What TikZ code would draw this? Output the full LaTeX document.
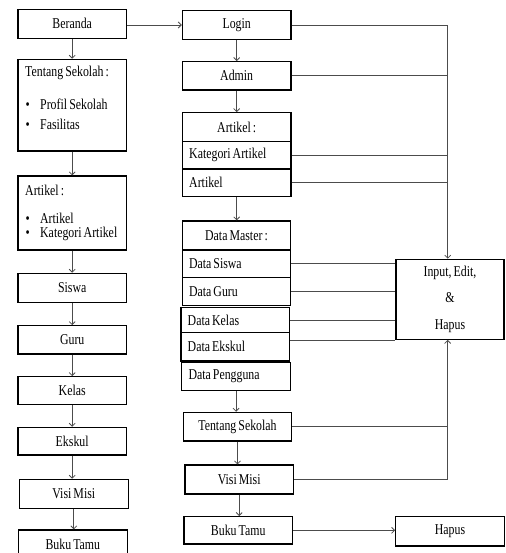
\documentclass[tikz,border=0pt]{standalone}
\usepackage{fontspec}
\setmainfont{Liberation Serif}[FakeStretch=0.79, WordSpace=0.7]
\usetikzlibrary{arrows.meta}

\newcommand{\butir}{\makebox[14.5pt][l]{\textbullet}}

\begin{document}
\begin{tikzpicture}[x=1pt, y=-1pt, font=\fontsize{15}{17.5}\selectfont,
	kotak/.style={draw, line width=1.2pt, inner sep=0pt, minimum width=108.6pt, minimum height=29pt},
	baris/.style={kotak, text width=95pt, align=flush left},
	teks/.style={anchor=west, inner sep=0pt},
	garis/.style={black!70, line width=0.8pt},
	panah/.style={garis, -{Straight Barb[length=3pt,width=6pt]}}]
	\useasboundingbox (0,0) rectangle (505,553);
	\clip (0,0) rectangle (505,553);

	% kolom kiri
	\node[kotak] (beranda) at (72.2,23.8) {Beranda};
	\node[kotak, minimum height=91.7pt] (tentang) at (72.2,105.2) {};
	\node[teks] (tentangJudul) at (25,73.3) {Tentang Sekolah :};
	\node[teks] (profil) at (25.5,104.3) {\butir Profil Sekolah};
	\node[teks] (fasilitas) at (25.5,124.3) {\butir Fasilitas};
	\node[kotak, minimum height=74pt] (artikelKiri) at (72.2,213) {};
	\node[teks] (artikelJudul) at (25,190.7) {Artikel :};
	\node[teks] (artikelA) at (25.5,218.3) {\butir Artikel};
	\node[teks] (artikelB) at (25.5,234.3) {\butir Kategori Artikel};
	\node[kotak] (siswa) at (72.2,287.8) {Siswa};
	\node[kotak, minimum height=28.3pt] (guru) at (72.2,339.9) {Guru};
	\node[kotak, minimum height=27.6pt] (kelas) at (72.2,390.5) {Kelas};
	\node[kotak, minimum height=27.7pt] (ekskul) at (72.2,441.2) {Ekskul};
	\node[kotak] (visiKiri) at (73.8,493.8) {Visi Misi};
	\node[kotak] (bukuKiri) at (72.8,544.5) {Buku Tamu};

	% kolom kanan
	\node[kotak, minimum height=28.6pt] (login) at (236.7,25) {Login};
	\node[kotak, minimum height=28.3pt] (admin) at (236.7,75.8) {Admin};
	\node[kotak] (artikelKanan) at (236.7,127.2) {Artikel :};
	\node[baris, minimum height=27.3pt] (kategori) at (236.7,155.3) {Kategori Artikel};
	\node[baris, minimum height=27.7pt] (artikelBaris) at (236.7,182.8) {Artikel};
	\node[kotak] (master) at (236.5,235.5) {Data Master :};
	\node[baris, minimum height=27.3pt] (dSiswa) at (236.5,263.7) {Data Siswa};
	\node[baris, minimum height=28.4pt] (dGuru) at (236.5,291.5) {Data Guru};
	\node[baris, minimum height=25pt] (dKelas) at (235.2,320.2) {Data Kelas};
	\node[baris, minimum height=28.3pt] (dEkskul) at (235.2,346.8) {Data Ekskul};
	\node[baris, minimum height=28pt] (dPengguna) at (236,376.7) {Data Pengguna};
	\node[kotak, minimum height=28.7pt] (tentangKanan) at (237.5,426.7) {Tentang Sekolah};
	\node[kotak] (visiKanan) at (239.2,479.5) {Visi Misi};
	\node[kotak, minimum height=27.3pt] (bukuKanan) at (238.2,530.3) {Buku Tamu};

	% kolom aksi
	\node[kotak, minimum width=108pt, minimum height=80pt, align=center] (input) at (450,299.3) {Input, Edit,\\[9pt]\&\\[9pt]Hapus};
	\node[kotak, minimum height=29.3pt] (hapus) at (450,531.3) {Hapus};
	\coordinate (bus) at (447.7,25);

	% panah
	\foreach \a/\b in {beranda/tentang, tentang/artikelKiri, artikelKiri/siswa, siswa/guru, guru/kelas, kelas/ekskul, ekskul/visiKiri, visiKiri/bukuKiri, login/admin, admin/artikelKanan, artikelBaris/master, dPengguna/tentangKanan, tentangKanan/visiKanan, visiKanan/bukuKanan}
		\draw[panah] (\a.south) -- (\a.south |- \b.north);
	\draw[panah] (beranda.east |- login) -- (login.west);
	\draw[panah] (login.east) -- (bus) -- (bus |- input.north);
	\foreach \n in {admin, kategori, artikelBaris}
		\draw[garis] (\n.east) -- (\n.east -| bus);
	\foreach \n in {dSiswa, dGuru, dKelas}
		\draw[garis] (\n.east) -- (\n.east -| input.west);
	\draw[garis] (dEkskul.east |- input.south west) -- (input.south west);
	\draw[garis] (tentangKanan.east) -- (tentangKanan.east -| bus);
	\draw[panah] (visiKanan.east) -- (visiKanan.east -| bus) -- (bus |- input.south);
	\draw[panah] (bukuKanan.east) -- (bukuKanan.east -| hapus.west);
\end{tikzpicture}
\end{document}
